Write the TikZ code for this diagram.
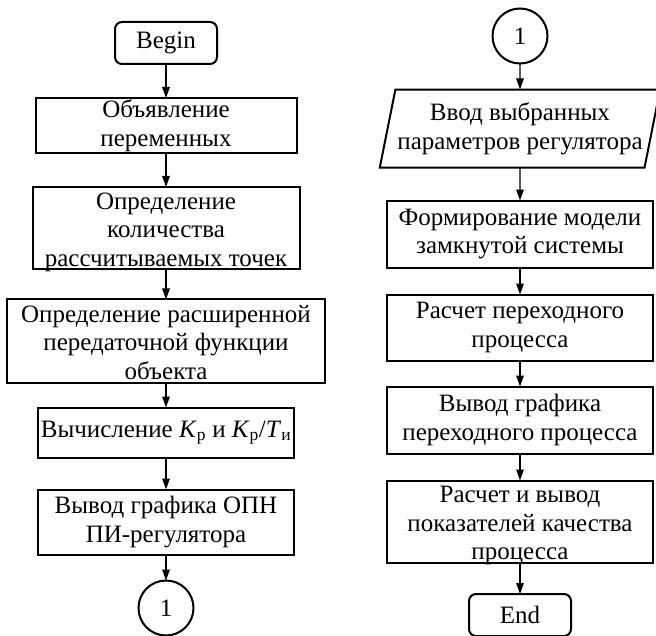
\documentclass[tikz,border=0pt]{standalone}
\usepackage{fontspec}
\setmainfont{Liberation Serif}
\usetikzlibrary{arrows.meta,positioning,shapes.geometric}
\newcommand{\dropthree}[1]{\raisebox{-4pt}[\height][\depth]{\begin{tabular}{@{}c@{}}#1\end{tabular}}}

\begin{document}
\begin{tikzpicture}[
    x=1pt, y=1pt,
    font=\fontsize{25}{28.5}\selectfont,
    node distance=30pt,
    every node/.style={outer sep=0pt},
    box/.style={rectangle, draw, line width=2pt, minimum width=#1,
                inner xsep=2pt, inner ysep=-1.5pt, align=center},
    box/.default=256pt,
    term/.style={rectangle, draw, line width=2pt, rounded corners=7pt,
                 minimum width=102pt, minimum height=42pt, inner sep=1pt},
    conn/.style={circle, draw, line width=2pt, minimum size=55pt, inner sep=0pt},
    io/.style={trapezium, trapezium left angle=73.5, trapezium right angle=106.5,
               trapezium stretches=true, draw, line width=2pt,
               minimum width=281pt, minimum height=78pt, inner sep=0pt, align=center},
    arr/.style={-{Triangle[length=11pt,width=7.5pt]}, line width=1.4pt}
]
\useasboundingbox (0,0) rectangle (656,-636);

% left column
\node[term] (start) at (166,-43) {Begin};
\node[box=261pt, minimum height=55pt, below=34pt of start] (vars) {Объявление\\переменных};
\node[box=267pt, minimum height=82pt, below=34pt of vars] (points)
    {\dropthree{Определение\\количества\\рассчитываемых точек}};
\node[box=318pt, minimum height=83pt, below=30pt of points] (tf)
    {\dropthree{Определение расширенной\\передаточной функции\\объекта}};
\node[box, minimum height=50pt, below=25pt of tf] (calc)
    {Вычисление \textit{K}\textsubscript{р} и \textit{K}\textsubscript{р}/\textit{T}\textsubscript{и}};
\node[box, minimum height=65pt, below=32pt of calc] (plotopn) {Вывод графика ОПН\\ПИ-регулятора};
\node[conn, below=26pt of plotopn] (out1) {1};

% right column
\node[conn] (in1) at (520,-36) {1};
\node[io, below=26pt of in1] (input) {Ввод выбранных\\параметров регулятора};
\node[box=266pt, minimum height=67pt, below=33pt of input] (model)
    {Формирование модели\\замкнутой системы};
\node[box=266pt, minimum height=66pt, below=27pt of model] (trans) {Расчет переходного\\процесса};
\node[box=266pt, minimum height=67pt, below=26pt of trans] (plottr)
    {Вывод графика\\переходного процесса};
\node[box=266pt, minimum height=77pt, below=27pt of plottr] (quality)
    {\dropthree{Расчет и вывод\\показателей качества\\процесса}};
\node[term, below=31pt of quality] (stop) {End};

\foreach \a/\b in {start/vars, vars/points, points/tf, tf/calc, calc/plotopn, plotopn/out1,
                   in1/input, input/model, model/trans, trans/plottr, plottr/quality, quality/stop}
    \draw[arr] (\a) -- (\b);
\end{tikzpicture}
\end{document}
